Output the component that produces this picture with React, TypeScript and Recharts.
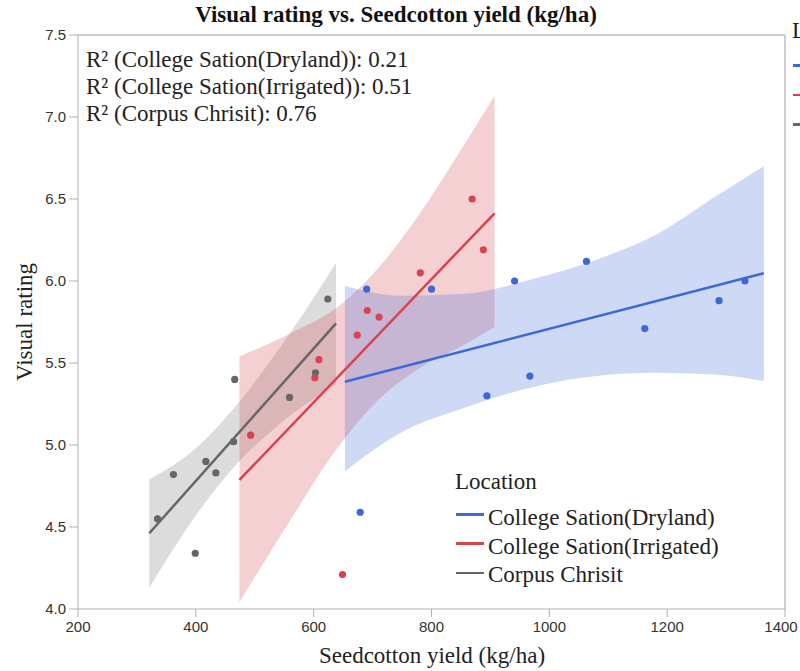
import React from 'react'
import {
  ComposedChart, Area, Line, Scatter, XAxis, YAxis, ReferenceLine,
} from 'recharts'

// observed points per location
const drylandPts = [
  { x: 679, y: 4.59 }, { x: 690, y: 5.95 }, { x: 800, y: 5.95 }, { x: 894, y: 5.3 },
  { x: 941, y: 6.0 }, { x: 967, y: 5.42 }, { x: 1063, y: 6.12 }, { x: 1162, y: 5.71 },
  { x: 1288, y: 5.88 }, { x: 1332, y: 6.0 },
]
const irrigatedPts = [
  { x: 493, y: 5.06 }, { x: 602, y: 5.41 }, { x: 609, y: 5.52 }, { x: 649, y: 4.21 },
  { x: 674, y: 5.67 }, { x: 691, y: 5.82 }, { x: 711, y: 5.78 }, { x: 781, y: 6.05 },
  { x: 869, y: 6.5 }, { x: 888, y: 6.19 },
]
const corpusPts = [
  { x: 335, y: 4.55 }, { x: 362, y: 4.82 }, { x: 399, y: 4.34 }, { x: 417, y: 4.9 },
  { x: 434, y: 4.83 }, { x: 464, y: 5.02 }, { x: 466, y: 5.4 }, { x: 559, y: 5.29 },
  { x: 603, y: 5.44 }, { x: 624, y: 5.89 },
]

// fitted lines
const drylandFit = [{ x: 653, y: 5.386 }, { x: 1364, y: 6.047 }]
const irrigatedFit = [{ x: 474, y: 4.787 }, { x: 907, y: 6.413 }]
const corpusFit = [{ x: 321, y: 4.462 }, { x: 638, y: 5.742 }]

// confidence bands
const drylandBand = [
  { x: 653, lo: 4.84, hi: 5.97 }, { x: 750, lo: 5.08, hi: 5.91 }, { x: 850, lo: 5.22, hi: 5.92 },
  { x: 980, lo: 5.36, hi: 6.02 }, { x: 1080, lo: 5.42, hi: 6.13 }, { x: 1180, lo: 5.44, hi: 6.28 },
  { x: 1280, lo: 5.43, hi: 6.51 }, { x: 1364, lo: 5.39, hi: 6.7 },
]
const irrigatedBand = [
  { x: 474, lo: 4.04, hi: 5.54 }, { x: 560, lo: 4.54, hi: 5.68 }, { x: 640, lo: 4.98, hi: 5.84 },
  { x: 700, lo: 5.24, hi: 6.04 }, { x: 780, lo: 5.47, hi: 6.41 }, { x: 850, lo: 5.6, hi: 6.8 },
  { x: 907, lo: 5.72, hi: 7.13 },
]
const corpusBand = [
  { x: 321, lo: 4.13, hi: 4.79 }, { x: 400, lo: 4.57, hi: 4.98 }, { x: 466, lo: 4.87, hi: 5.23 },
  { x: 540, lo: 5.12, hi: 5.58 }, { x: 638, lo: 5.37, hi: 6.11 },
]

const xTicks = [200, 400, 600, 800, 1000, 1200, 1400]
const yTicks = [4.0, 4.5, 5.0, 5.5, 6.0, 6.5, 7.0, 7.5]

const rSquared = [
  { name: 'College Sation(Dryland)', r2: '0.21' },
  { name: 'College Sation(Irrigated)', r2: '0.51' },
  { name: 'Corpus Chrisit', r2: '0.76' },
]

const BLUE = '#3d68d8'
const RED = '#d9434f'
const GRAY = '#666666'
const colors = [BLUE, RED, GRAY]

const serif = '"Liberation Serif", "Times New Roman", serif'
const sans = '"Liberation Sans", sans-serif'
const tickStyle = { fill: '#333', fontSize: 15, fontFamily: sans }
const FS = 23

const dot = (c: string) => (p: any) => <circle cx={p.cx} cy={p.cy} r={3.6} fill={c} />

// last label is nudged left so it stays inside the page
const XTick = (p: any) => (
  <text
    x={p.x + (p.payload.value === 1400 ? -3 : 0)}
    y={p.y}
    dy="0.71em"
    textAnchor="middle"
    fill="#333"
    fontSize={15}
    fontFamily={sans}
  >
    {p.payload.value}
  </text>
)

export default function App() {
  return (
    <div style={{ position: 'absolute', left: 0, top: 0, width: 800, height: 671, overflow: 'hidden', background: '#fff', fontFamily: serif, fontSize: FS, lineHeight: '27px', color: '#222' }}>
      <ComposedChart width={800} height={671} margin={{ top: 35, right: 15, bottom: 22, left: 0 }}>
        <XAxis
          type="number"
          dataKey="x"
          domain={[200, 1400]}
          ticks={xTicks}
          allowDataOverflow
          height={40}
          tick={<XTick />}
          tickSize={8}
          tickMargin={4}
          stroke="#b0b0b0"
        />
        <YAxis
          type="number"
          dataKey="y"
          domain={[4, 7.5]}
          ticks={yTicks}
          allowDataOverflow
          width={78}
          tick={tickStyle}
          tickSize={9}
          tickMargin={3}
          tickFormatter={(v: number) => v.toFixed(1)}
          stroke="#b0b0b0"
        />
        <ReferenceLine y={7.5} stroke="#c0c0c0" strokeWidth={1.5} />
        <ReferenceLine x={1400} stroke="#c0c0c0" strokeWidth={1.5} />

        <Area data={corpusBand} dataKey={(d: any) => [d.lo, d.hi]} type="monotone" stroke="none" fill={GRAY} fillOpacity={0.23} isAnimationActive={false} />
        <Area data={irrigatedBand} dataKey={(d: any) => [d.lo, d.hi]} type="monotone" stroke="none" fill={RED} fillOpacity={0.25} isAnimationActive={false} />
        <Area data={drylandBand} dataKey={(d: any) => [d.lo, d.hi]} type="monotone" stroke="none" fill={BLUE} fillOpacity={0.25} isAnimationActive={false} />

        <Line data={corpusFit} dataKey="y" stroke={GRAY} strokeWidth={2.5} dot={false} isAnimationActive={false} />
        <Line data={irrigatedFit} dataKey="y" stroke={RED} strokeWidth={2.5} dot={false} isAnimationActive={false} />
        <Line data={drylandFit} dataKey="y" stroke={BLUE} strokeWidth={2.5} dot={false} isAnimationActive={false} />

        <Scatter data={corpusPts} dataKey="y" fill={GRAY} shape={dot(GRAY)} isAnimationActive={false} />
        <Scatter data={irrigatedPts} dataKey="y" fill={RED} shape={dot(RED)} isAnimationActive={false} />
        <Scatter data={drylandPts} dataKey="y" fill={BLUE} shape={dot(BLUE)} isAnimationActive={false} />
      </ComposedChart>

      {/* title */}
      <div style={{ position: 'absolute', left: 0, width: 792, top: 1, textAlign: 'center', fontWeight: 'bold', color: '#111', whiteSpace: 'nowrap' }}>
        Visual rating vs. Seedcotton yield (kg/ha)
      </div>

      {/* R² annotations */}
      {rSquared.map((r, i) => (
        <div key={r.name} style={{ position: 'absolute', left: 86, top: 46 + i * 27, whiteSpace: 'nowrap' }}>
          R² ({r.name}): {r.r2}
        </div>
      ))}

      {/* inner legend */}
      <div style={{ position: 'absolute', left: 455, top: 468 }}>Location</div>
      {rSquared.map((r, i) => (
        <React.Fragment key={r.name}>
          <div style={{ position: 'absolute', left: 456, top: 513 + i * 29.3, width: 28, height: 2.5, background: colors[i] }} />
          <div style={{ position: 'absolute', left: 488, top: 504 + i * 28.7, whiteSpace: 'nowrap' }}>{r.name}</div>
        </React.Fragment>
      ))}

      {/* axis titles */}
      <div style={{ position: 'absolute', left: 0, width: 864, top: 642, textAlign: 'center' }}>
        Seedcotton yield (kg/ha)
      </div>
      <div style={{ position: 'absolute', left: 24, top: 322, transform: 'translate(-50%, -50%) rotate(-90deg)', whiteSpace: 'nowrap' }}>
        Visual rating
      </div>

      {/* outer legend, cut off at the right edge */}
      <div style={{ position: 'absolute', left: 792, top: 17, whiteSpace: 'nowrap' }}>Location</div>
      {colors.map((c, i) => (
        <div key={c} style={{ position: 'absolute', left: 793, top: 64 + i * 29.5, width: 20, height: 2.5, background: c }} />
      ))}
    </div>
  )
}
